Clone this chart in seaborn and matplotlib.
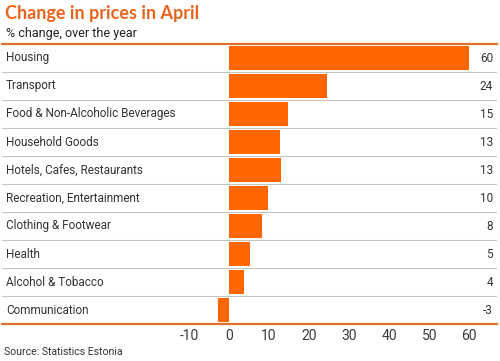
import matplotlib
matplotlib.use("Agg")
import matplotlib.pyplot as plt
import matplotlib.transforms as mtransforms
import seaborn as sns
import pandas as pd

categories = ["Housing", "Transport", "Food & Non-Alcoholic Beverages", "Household Goods",
              "Hotels, Cafes, Restaurants", "Recreation, Entertainment", "Clothing & Footwear",
              "Health", "Alcohol & Tobacco", "Communication"]
values = [59.8, 24.4, 14.7, 12.8, 13.0, 9.8, 8.1, 5.3, 3.8, -2.8]
value_labels = ["60", "24", "15", "13", "13", "10", "8", "5", "4", "-3"]
xticks = [-10, 0, 10, 20, 30, 40, 50, 60]

sns.set_style("white")
plt.rcParams['font.family'] = ['Roboto', 'DejaVu Sans']

df = pd.DataFrame({"category": categories, "value": values})

W, H = 500, 361
fig = plt.figure(figsize=(W / 100, H / 100), dpi=100)
ax = fig.add_axes([2 / W, (H - 324) / H, 495 / W, 280 / H])

sns.barplot(data=df, x="value", y="category", orient="h", color="#FF6600",
            width=0.88, ax=ax, saturation=1, edgecolor="none")

ax.set_xlim(-56.7, 66.9)
ax.set_ylim(len(categories) - 0.5, -0.5)
ax.set_xlabel("")
ax.set_ylabel("")
ax.set_yticks([])
ax.set_xticks(xticks)
ax.set_xticklabels([str(t) for t in xticks], fontsize=10, color="#3a3a3a")
ax.tick_params(axis="x", length=0, pad=3.5)

for s in ["left", "right"]:
    ax.spines[s].set_visible(False)
for s in ["top", "bottom"]:
    ax.spines[s].set_color("#E2702A")
    ax.spines[s].set_linewidth(1.6)

for i in range(len(categories) - 1):
    ax.axhline(i + 0.5, color="#C9C2BA", lw=0.8, zorder=0)

trans = mtransforms.blended_transform_factory(ax.transAxes, ax.transData)
for i, (c, lab) in enumerate(zip(categories, value_labels)):
    ax.text(4 / 495, i, c, transform=trans, ha="left", va="center",
            fontsize=8.5, color="#333333")
    ax.text(491 / 495, i, lab, transform=trans, ha="right", va="center",
            fontsize=8.5, color="#333333")

fig.text(5 / W, 1 - 13 / H, "Change in prices in April", ha="left", va="center",
         fontsize=13, fontweight="bold", color="#E8641E", family=["Lato", "DejaVu Sans"])
fig.text(6 / W, 1 - 33 / H, "% change, over the year", ha="left", va="center",
         fontsize=9, color="#222222")
fig.text(4 / W, 1 - 352 / H, "Source: Statistics Estonia", ha="left", va="center",
         fontsize=7.6, color="#333333")

fig.savefig("out.png", dpi=100)
